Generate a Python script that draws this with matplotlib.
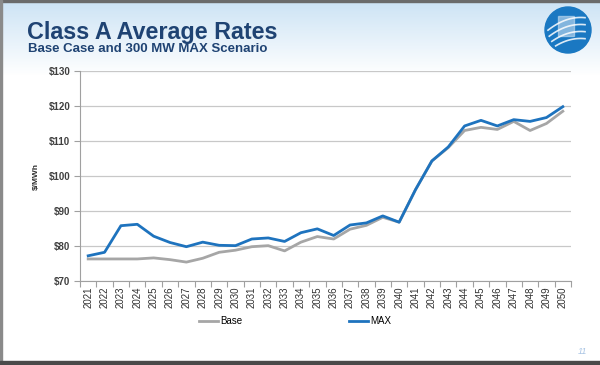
import numpy as np
import matplotlib
matplotlib.use("Agg")
import matplotlib.pyplot as plt
from matplotlib.lines import Line2D
from matplotlib.patches import Circle, Rectangle

years = [str(y) for y in range(2021, 2051)]
base = [76.3, 76.3, 76.3, 76.3, 76.6, 76.1, 75.4, 76.5, 78.2, 78.8, 79.8, 80.1, 78.6, 81.1, 82.7,
        82.0, 84.8, 85.9, 88.2, 86.8, 96.1, 104.3, 108.1, 113.0, 113.9, 113.3, 115.6, 113.0, 115.0, 118.5]
maxs = [77.2, 78.2, 85.8, 86.2, 82.8, 81.0, 79.8, 81.1, 80.2, 80.1, 82.0, 82.3, 81.3, 83.8, 84.9,
        83.0, 86.0, 86.6, 88.6, 86.8, 96.1, 104.3, 108.3, 114.3, 115.9, 114.3, 116.1, 115.6, 116.7, 119.8]
yticks = [70, 80, 90, 100, 110, 120, 130]
ytick_labels = ["$70", "$80", "$90", "$100", "$110", "$120", "$130"]

plt.rcParams['font.family'] = ['Liberation Sans', 'DejaVu Sans']

W, H = 600, 365
fig = plt.figure(figsize=(6, 3.65), dpi=100)

# background gradient
bg = fig.add_axes([0, 0, 1, 1])
bg.set_xlim(0, W)
bg.set_ylim(H, 0)
bg.axis('off')
grad = np.ones((H, 1, 3))
top = np.array([0.80, 0.89, 0.96])
for i in range(H):
    t = min(i / 75.0, 1.0)
    grad[i, 0, :] = top * (1 - t) + np.array([1, 1, 1]) * t
bg.imshow(grad, extent=[0, W, H, 0], aspect='auto', zorder=0)
bg.add_patch(Rectangle((0, 0), W, 2, color='#6b6b6b', zorder=1))
bg.add_patch(Rectangle((0, 0), 1.5, H, color='#8a8a8a', zorder=1))
bg.add_patch(Rectangle((0, 361), W, 4, color='#4a4a4a', zorder=1))

bg.text(27, 32, "Class A Average Rates", fontsize=16.8, fontweight='heavy',
        color='#1f4373', va='center', ha='left', zorder=2)
bg.text(28, 49.5, "Base Case and 300 MW MAX Scenario", fontsize=9.5, fontweight='heavy',
        color='#1f4373', va='center', ha='left', zorder=2)
bg.text(582, 352, "11", fontsize=6.5, color='#a8c4e4', style='italic', va='center', ha='center', zorder=2)

# logo
bg.add_patch(Circle((568, 30), 23, color='#1a78c2', zorder=2))
for k, dy in enumerate([-10, -3, 4, 11]):
    xs = np.linspace(548, 585, 30)
    ys = 30 + dy + 0.012 * (xs - 566) ** 2 - 0.35 * (xs - 566)
    m = (xs - 568) ** 2 + (ys - 30) ** 2 < 21 ** 2
    bg.plot(xs[m], ys[m], color='white', lw=1.2, alpha=0.85, zorder=3)
bg.add_patch(Rectangle((558, 16), 16, 20, color='#c8dff2', alpha=0.6, zorder=2.5))

# main axes
x0, x1 = 80, 571
y0, y1 = 71, 281
ax = fig.add_axes([x0 / W, 1 - y1 / H, (x1 - x0) / W, (y1 - y0) / H])
ax.set_facecolor('none')
x = np.arange(len(years))
ax.plot(x, base, color='#a6a6a6', lw=2.0, zorder=3)
ax.plot(x, maxs, color='#1e73be', lw=2.0, zorder=4)
ax.set_xlim(-0.5, len(years) - 0.5)
ax.set_ylim(70, 130)
ax.set_yticks(yticks)
ax.set_yticklabels(ytick_labels, fontsize=7, fontweight='bold', color='#404040')
ax.set_xticks(x)
ax.set_xticklabels(years, rotation=90, fontsize=7, color='#303030')
ax.set_xticks(np.arange(-0.5, len(years), 1), minor=True)
ax.tick_params(axis='x', which='major', length=0, pad=4)
ax.tick_params(axis='x', which='minor', length=4, color='#a0a0a0', width=0.8)
ax.tick_params(axis='y', length=4, color='#a0a0a0', width=0.8, pad=3)
ax.grid(axis='y', color='#c8c8c8', lw=0.9)
ax.set_axisbelow(True)
for s in ['top', 'right']:
    ax.spines[s].set_visible(False)
ax.spines['left'].set_color('#a0a0a0')
ax.spines['bottom'].set_color('#a0a0a0')
ax.set_ylabel("$/MWh", fontsize=6, fontweight='bold', color='#303030', labelpad=6)

handles = [Line2D([], [], color='#a6a6a6', lw=2.0), Line2D([], [], color='#1e73be', lw=2.0)]
fig.legend(handles, ["Base", "MAX"], loc='center', bbox_to_anchor=(295 / W, 1 - 321 / H),
           ncol=2, frameon=False, fontsize=7, handlelength=2.0, handletextpad=0.2,
           columnspacing=11)

fig.savefig("out.png", dpi=100)
